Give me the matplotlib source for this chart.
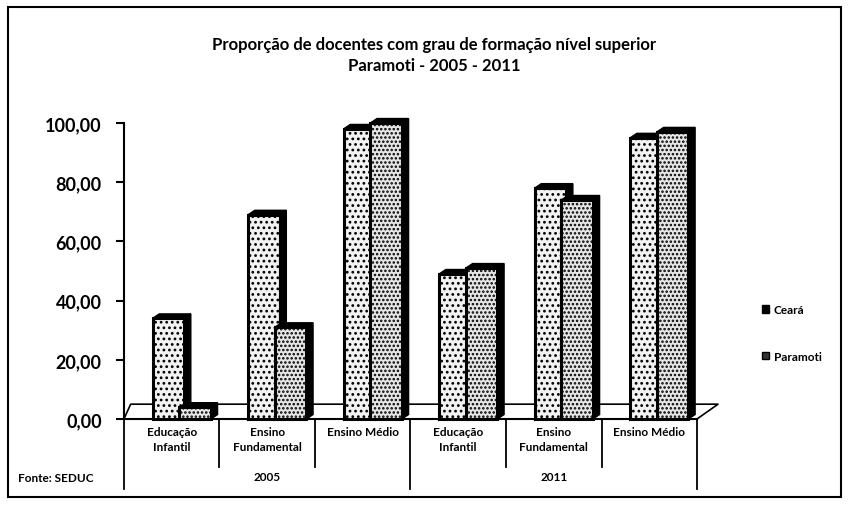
import matplotlib
matplotlib.use("Agg")
import matplotlib.pyplot as plt
from matplotlib.patches import Polygon, Rectangle, Patch
import numpy as np

CATEGORIES = ["Educação\nInfantil", "Ensino\nFundamental", "Ensino Médio",
              "Educação\nInfantil", "Ensino\nFundamental", "Ensino Médio"]
YEARS = ["2005", "2011"]
CEARA = [34, 69, 98, 49, 78, 95]
PARAMOTI = [4, 31, 100, 51, 74, 97]
YTICKS = [0, 20, 40, 60, 80, 100]

plt.rcParams['font.family'] = ['Lato', 'DejaVu Sans']
plt.rcParams['hatch.color'] = '#444444'
plt.rcParams['hatch.linewidth'] = 1.2

fig = plt.figure(figsize=(8.49, 5.06), dpi=100)
ax = fig.add_axes([0.146, 0.170, 0.675, 0.585])

DX, DY = 0.07, 1.5  # fake 3d depth


def add_depth(bars, z):
    # side and top face for every bar, built from the bar itself
    for b in bars:
        x0, w, h = b.get_x(), b.get_width(), b.get_height()
        x1 = x0 + w
        side = Polygon([(x1, 0), (x1 + DX, DY), (x1 + DX, h + DY), (x1, h)],
                       closed=True, facecolor='black', edgecolor='black', zorder=z, clip_on=False)
        top = Polygon([(x0, h), (x0 + DX, h + DY), (x1 + DX, h + DY), (x1, h)],
                      closed=True, facecolor='black', edgecolor='black', zorder=z, clip_on=False)
        ax.add_patch(side)
        ax.add_patch(top)


x = np.arange(len(CATEGORIES))
bars_c = ax.bar(x + 0.465, CEARA, width=0.33, facecolor='#f2f2f2', edgecolor='black',
                linewidth=2.2, hatch='...', zorder=3, clip_on=False)
add_depth(bars_c, 3)
bars_p = ax.bar(x + 0.745, PARAMOTI, width=0.33, facecolor='#e6e6e6', edgecolor='black',
                linewidth=2.2, hatch='....', zorder=4, clip_on=False)
add_depth(bars_p, 4)

# floor of the 3d chart
ax.plot([0, 0.07, 6.22, 6.0], [0, 5, 5, 0], color='black', lw=1.2, zorder=1, clip_on=False)

ax.set_xlim(0, 6)
ax.set_ylim(0, 100)
ax.set_yticks(YTICKS)
ax.set_yticklabels(["{0:.2f}".format(v).replace('.', ',') for v in YTICKS])
ax.tick_params(axis='y', length=6, width=1.5, labelsize=13, pad=10)
ax.set_xticks([])
for lab in ax.get_yticklabels():
    lab.set_fontweight('bold')
ax.spines['top'].set_visible(False)
ax.spines['right'].set_visible(False)
ax.spines['left'].set_linewidth(1.5)
ax.spines['bottom'].set_linewidth(1.5)

# multi level category axis
trans = ax.get_xaxis_transform()
for i in range(len(CATEGORIES) + 1):
    low = -0.236 if i % 3 == 0 else -0.162
    ax.plot([i, i], [0, low], color='black', lw=1.3, transform=trans, clip_on=False)
for i, name in enumerate(CATEGORIES):
    ax.text(i + 0.5, -0.025, name, transform=trans, ha='center', va='top',
            fontsize=8.5, fontweight='bold', linespacing=1.35)
for j, year in enumerate(YEARS):
    ax.text(3 * j + 1.5, -0.196, year, transform=trans, ha='center', va='center',
            fontsize=8.5, fontweight='bold')

fig.text(0.021, 0.055, "Fonte: SEDUC", fontsize=8.5, fontweight='bold', va='center')

fig.text(0.511, 0.912, "Proporção de docentes com grau de formação nível superior",
         ha='center', va='center', fontsize=12, fontweight='bold')
fig.text(0.511, 0.869, "Paramoti - 2005 - 2011",
         ha='center', va='center', fontsize=12, fontweight='bold')

handles = [Patch(facecolor='black', edgecolor='black'),
           Patch(facecolor='#333333', edgecolor='black')]
fig.legend(handles, ["Ceará", "Paramoti"], loc='center left', bbox_to_anchor=(0.885, 0.34),
           frameon=False, handlelength=0.6, handleheight=0.6,
           handletextpad=0.4, labelspacing=3.0, prop={'weight': 'bold', 'size': 8.5})

fig.patches.append(Rectangle((0.009, 0.016), 0.982, 0.968, transform=fig.transFigure,
                             fill=False, edgecolor='black', linewidth=1.5))

fig.savefig("out.png", dpi=100)
